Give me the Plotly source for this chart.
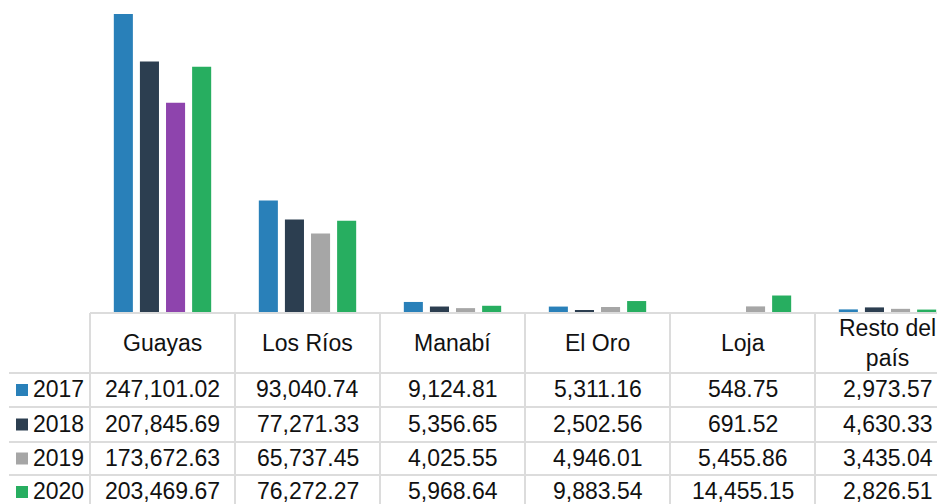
import plotly.graph_objects as go

# ---- data ----
regions = ["Guayas", "Los Ríos", "Manabí", "El Oro", "Loja", "Resto del país"]
header_labels = ["Guayas", "Los Ríos", "Manabí", "El Oro", "Loja", "Resto del<br>país"]
years = ["2017", "2018", "2019", "2020"]
v2017 = [247101.02, 93040.74, 9124.81, 5311.16, 548.75, 2973.57]
v2018 = [207845.69, 77271.33, 5356.65, 2502.56, 691.52, 4630.33]
v2019 = [173672.63, 65737.45, 4025.55, 4946.01, 5455.86, 3435.04]
v2020 = [203469.67, 76272.27, 5968.64, 9883.54, 14455.15, 2826.51]
series = [v2017, v2018, v2019, v2020]
colors = ["#2980b9", "#2c3e50", "#a6a6a6", "#27ae60"]
bar_colors = [
    [colors[0]] * 6,
    [colors[1]] * 6,
    ["#8e44ad"] + [colors[2]] * 5,
    [colors[3]] * 6,
]

# ---- layout constants (page pixels) ----
PAGE_W, PAGE_H = 945, 504
OFF = 8                      # default body margin of the page
W, H = PAGE_W - OFF, PAGE_H - OFF
col_w = 145.0                # px per category
first_col_left = 90.0
label_left = 9.0
baseline_px = 313.0
header_bottom = 373.0
row_lines = [407.0, 442.0, 475.0, 509.0]
top_bar_px = 14.0

x0 = -0.5 - (first_col_left - OFF) / col_w
x1 = x0 + W / col_w
ymax = v2017[0] * (baseline_px - OFF) / (baseline_px - top_bar_px)
ydom0 = (PAGE_H - baseline_px) / H


def px_x(p):
    return x0 + (p - OFF) / col_w


def px_y(p):
    return (PAGE_H - p) / H


fig = go.Figure()
for i, y in enumerate(years):
    fig.add_trace(go.Bar(
        x=list(range(len(regions))), y=series[i], name=y,
        marker=dict(color=bar_colors[i], line=dict(width=0)),
        hoverinfo="skip",
    ))

grid = "#dcdcdc"
shapes = []
shapes.append(dict(type="line", xref="x", yref="paper", x0=-0.5, x1=x1,
                   y0=px_y(baseline_px), y1=px_y(baseline_px),
                   line=dict(color=grid, width=2)))
for yy in [header_bottom] + row_lines[:-1]:
    shapes.append(dict(type="line", xref="x", yref="paper", x0=px_x(label_left), x1=x1,
                       y0=px_y(yy), y1=px_y(yy), line=dict(color=grid, width=2)))
for k in range(len(regions)):
    xv = k - 0.5
    shapes.append(dict(type="line", xref="x", yref="paper", x0=xv, x1=xv,
                       y0=px_y(baseline_px), y1=-0.05, line=dict(color=grid, width=2)))

annotations = []
font = dict(family="Arial, Liberation Sans, sans-serif", size=23, color="#111111")
for k, lab in enumerate(header_labels):
    annotations.append(dict(xref="x", yref="paper", x=k, y=px_y((baseline_px + header_bottom) / 2),
                            text=lab, showarrow=False, font=font,
                            xanchor="center", yanchor="middle"))

row_tops = [header_bottom] + row_lines[:-1]
for r, y in enumerate(years):
    yc = (row_tops[r] + row_lines[r]) / 2 - 1
    for k in range(len(regions)):
        annotations.append(dict(xref="x", yref="paper", x=k, y=px_y(yc),
                                text=f"{series[r][k]:,.2f}", showarrow=False, font=font,
                                xanchor="center", yanchor="middle"))
    annotations.append(dict(xref="x", yref="paper", x=px_x(31), y=px_y(yc),
                            text=y, showarrow=False, font=font,
                            xanchor="left", yanchor="middle"))
    shapes.append(dict(type="rect", xref="x", yref="paper",
                       x0=px_x(16), x1=px_x(28), y0=px_y(yc - 5), y1=px_y(yc + 7),
                       fillcolor=colors[r], line=dict(width=0)))

fig.update_layout(
    width=W, height=H,
    margin=dict(l=0, r=0, t=0, b=0),
    paper_bgcolor="white", plot_bgcolor="white",
    barmode="group", bargap=0.28, bargroupgap=0.27,
    showlegend=False,
    xaxis=dict(range=[x0, x1], domain=[0, 1], showticklabels=False, showgrid=False,
               zeroline=False, showline=False, ticks=""),
    yaxis=dict(range=[0, ymax], domain=[ydom0, 1], showticklabels=False, showgrid=False,
               zeroline=False, showline=False, ticks=""),
    shapes=shapes,
    annotations=annotations,
)

fig.write_html("out.html")
